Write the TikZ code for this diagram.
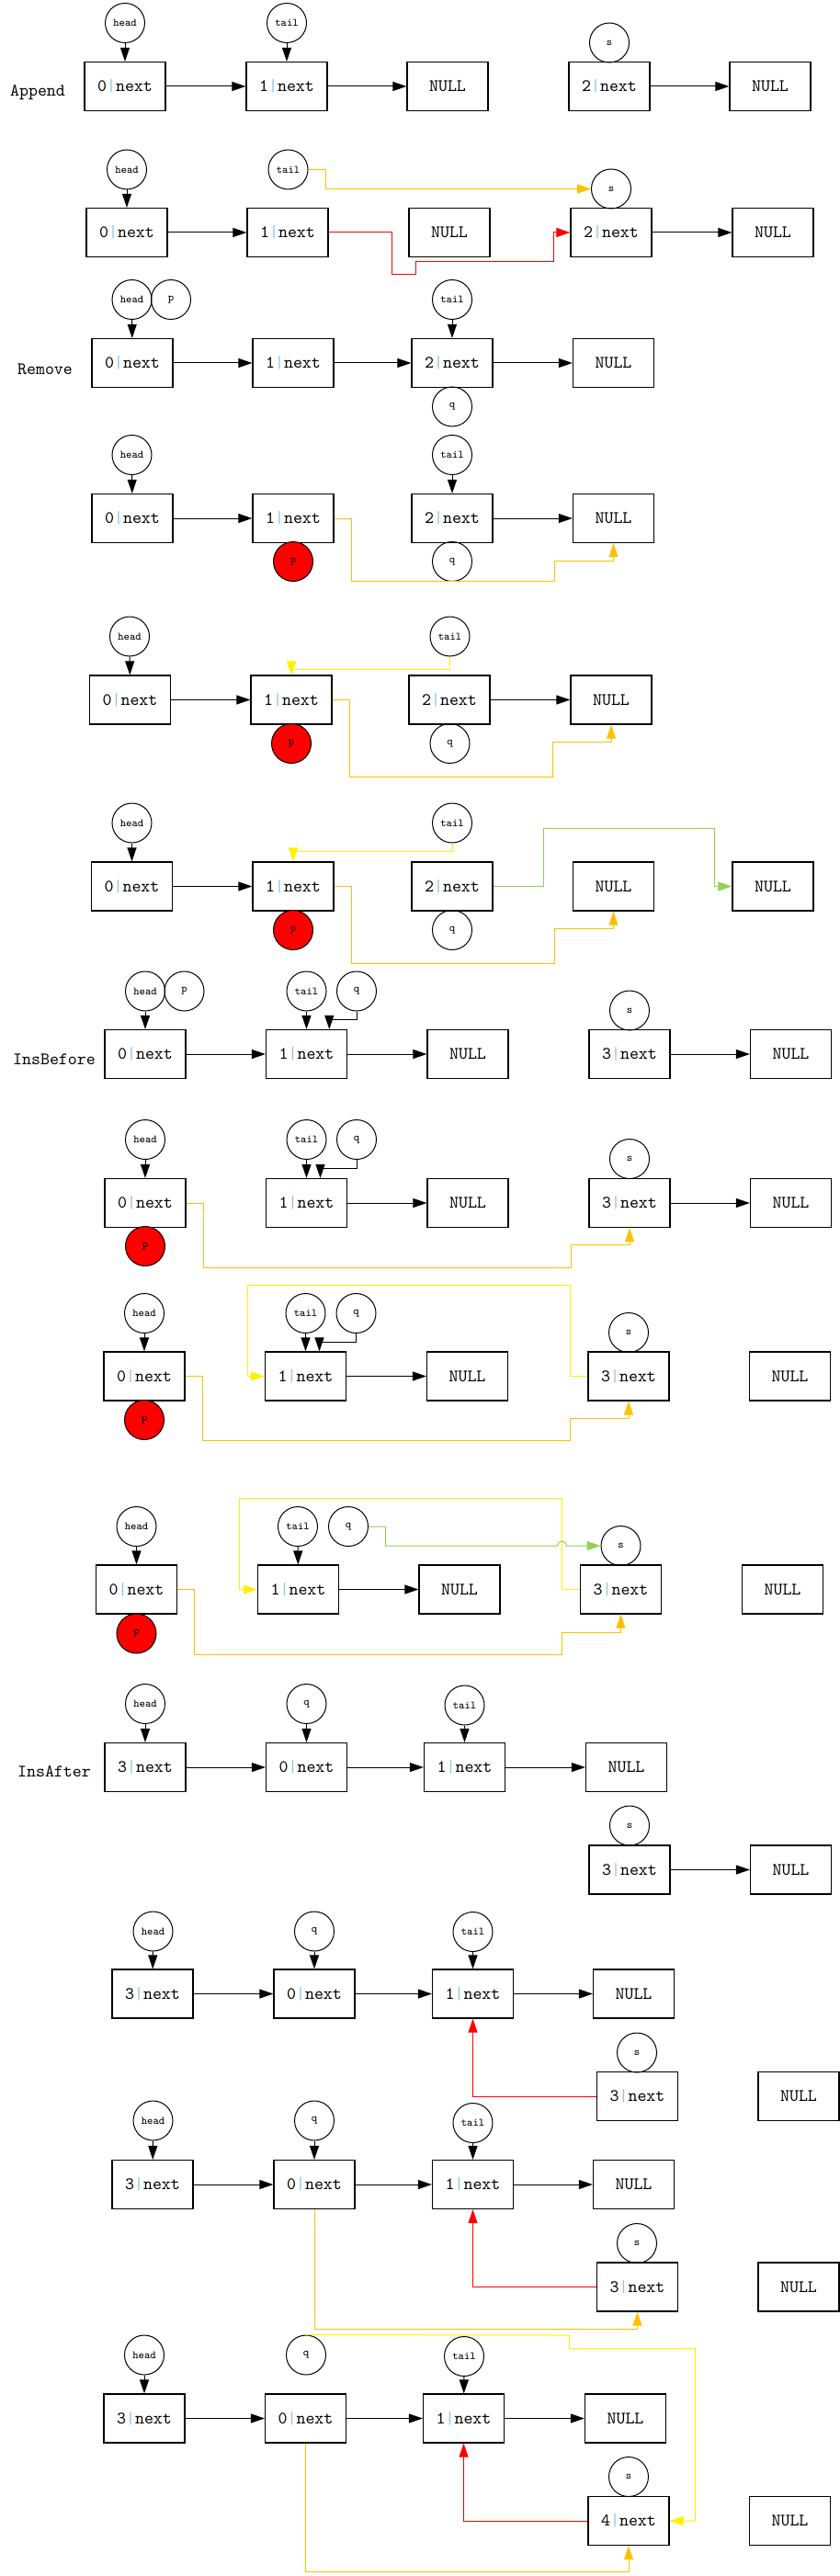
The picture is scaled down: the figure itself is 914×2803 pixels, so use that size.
\documentclass[tikz,border=0pt]{standalone}
\usepackage{tikz}
\usepackage{xcolor}
\definecolor{amber}{HTML}{FFC000}
\definecolor{lemon}{HTML}{FFF000}
\definecolor{leaf}{HTML}{92D050}
\definecolor{barblue}{HTML}{8EC3EA}
\usetikzlibrary{arrows.meta}
\tikzset{>={Triangle[length=7.5pt,width=5pt]}}
\tikzset{
  cell/.style={draw, line width=0.6pt, minimum width=44pt, minimum height=26.5pt, inner sep=0pt, font=\fontsize{9.5}{11}\ttfamily},
  ptr/.style={draw, circle, line width=0.5pt, minimum size=21.5pt, inner sep=0pt, font=\fontsize{6}{7}\ttfamily},
  cur/.style={ptr, fill=red},
  stage/.style={font=\fontsize{9.5}{11}\ttfamily}
}
\newcommand{\cellnext}[1]{#1\textcolor{barblue}{\textbar}next}

\begin{document}
\begin{tikzpicture}[x=0.5pt,y=-0.5pt,line width=0.5pt]
\useasboundingbox (0,0) rectangle (914,2803);

% ---------- Append ----------
\node[stage] (append) at (41,101) {Append};

% before
\node[cell] (a1n0) at (136,94) {\cellnext{0}};
\node[cell] (a1n1) at (312,94) {\cellnext{1}};
\node[cell] (a1nul) at (487,94) {NULL};
\node[cell] (a1n2) at (663,94) {\cellnext{2}};
\node[cell] (a1nulb) at (838,94) {NULL};
\node[ptr] (a1head) at (136,25) {head};
\node[ptr] (a1tail) at (312,25) {tail};
\node[ptr] (a1s) at (663,46.5) {s};
\draw[->] (a1head) -- (a1n0);
\draw[->] (a1tail) -- (a1n1);
\draw[->] (a1n0) -- (a1n1);
\draw[->] (a1n1) -- (a1nul);
\draw[->] (a1n2) -- (a1nulb);

% after
\node[cell] (a2n0) at (138,253) {\cellnext{0}};
\node[cell] (a2n1) at (313,253) {\cellnext{1}};
\node[cell] (a2nul) at (489,253) {NULL};
\node[cell] (a2n2) at (665,253) {\cellnext{2}};
\node[cell] (a2nulb) at (841,253) {NULL};
\node[ptr] (a2head) at (138,184.5) {head};
\node[ptr] (a2tail) at (313.5,184.5) {tail};
\node[ptr] (a2s) at (665,205.5) {s};
\draw[->] (a2head) -- (a2n0);
\draw[->] (a2n0) -- (a2n1);
\draw[->] (a2n2) -- (a2nulb);
\draw[->, amber] (a2tail.east) -- (354,184.5) |- (a2s.west);          % tail = s
\draw[->, red] (a2n1.east) -- (426,253) |- (452,299) |- (602,285) |- (a2n2.west); % tail->next = s

% ---------- Remove ----------
\node[stage] (remove) at (49,401.5) {Remove};

% step 1
\node[cell] (r1n0) at (144,395) {\cellnext{0}};
\node[cell] (r1n1) at (319,395) {\cellnext{1}};
\node[cell] (r1n2) at (492,395) {\cellnext{2}};
\node[cell] (r1nul) at (667.5,395) {NULL};
\node[ptr] (r1head) at (143.5,326) {head};
\node[ptr] (r1p) at (186,326) {p};
\node[ptr] (r1tail) at (492,326) {tail};
\node[ptr] (r1q) at (492,442.5) {q};
\draw[->] (r1head) -- (r1n0);
\draw[->] (r1tail) -- (r1n2);
\draw[->] (r1n0) -- (r1n1);
\draw[->] (r1n1) -- (r1n2);
\draw[->] (r1n2) -- (r1nul);

% step 2
\node[cell] (r2n0) at (144,564) {\cellnext{0}};
\node[cell] (r2n1) at (319,564) {\cellnext{1}};
\node[cell] (r2n2) at (492,564) {\cellnext{2}};
\node[cell] (r2nul) at (667.5,564) {NULL};
\node[ptr] (r2head) at (143.5,495) {head};
\node[ptr] (r2tail) at (492,495) {tail};
\node[cur] (r2p) at (319,611) {p};
\node[ptr] (r2q) at (492,611) {q};
\draw[->] (r2head) -- (r2n0);
\draw[->] (r2tail) -- (r2n2);
\draw[->] (r2n0) -- (r2n1);
\draw[->] (r2n2) -- (r2nul);
\draw[->, amber] (r2n1.east) -- (382,564) |- (603,632) |- (667.5,610) -- (r2nul.south);

% step 3
\node[cell] (r3n0) at (141.5,761.5) {\cellnext{0}};
\node[cell] (r3n1) at (317,761.5) {\cellnext{1}};
\node[cell] (r3n2) at (489,761.5) {\cellnext{2}};
\node[cell] (r3nul) at (665,761.5) {NULL};
\node[ptr] (r3head) at (141,692.5) {head};
\node[ptr] (r3tail) at (489.5,692.5) {tail};
\node[cur] (r3p) at (317,809) {p};
\node[ptr] (r3q) at (489.5,809) {q};
\draw[->] (r3head) -- (r3n0);
\draw[->] (r3n0) -- (r3n1);
\draw[->] (r3n2) -- (r3nul);
\draw[->, lemon] (r3tail.south) -- ++(0,13.5) -| (r3n1.north);
\draw[->, amber] (r3n1.east) -- (380,761.5) |- (601.5,845) |- (665,807.5) -- (r3nul.south);

% step 4
\node[cell] (r4n0) at (143.5,964.5) {\cellnext{0}};
\node[cell] (r4n1) at (319,964.5) {\cellnext{1}};
\node[cell] (r4n2) at (492,964.5) {\cellnext{2}};
\node[cell] (r4nul) at (667.5,964.5) {NULL};
\node[cell] (r4nulb) at (841,964.5) {NULL};
\node[ptr] (r4head) at (143.5,895.5) {head};
\node[ptr] (r4tail) at (492,895.5) {tail};
\node[cur] (r4p) at (319,1012) {p};
\node[ptr] (r4q) at (492,1012) {q};
\draw[->] (r4head) -- (r4n0);
\draw[->] (r4n0) -- (r4n1);
\draw[->, lemon] (r4tail.south) -- ++(0,9) -| (r4n1.north);
\draw[->, amber] (r4n1.east) -- (382,964.5) |- (603,1048) |- (667.5,1010) -- (r4nul.south);
\draw[->, leaf] (r4n2.east) -- (591.5,964.5) |- (777.5,901) |- (r4nulb.west);

% ---------- InsBefore ----------
\node[stage] (insbefore) at (59,1152.5) {InsBefore};

% step 1
\node[cell] (b1n0) at (158,1147) {\cellnext{0}};
\node[cell] (b1n1) at (333.5,1147) {\cellnext{1}};
\node[cell] (b1nul) at (509,1147) {NULL};
\node[cell] (b1n3) at (685,1147) {\cellnext{3}};
\node[cell] (b1nulb) at (860.5,1147) {NULL};
\node[ptr] (b1head) at (158,1078.5) {head};
\node[ptr] (b1p) at (200.5,1078.5) {p};
\node[ptr] (b1tail) at (333.5,1078.5) {tail};
\node[ptr] (b1q) at (388,1078.5) {q};
\node[ptr] (b1s) at (685,1099.5) {s};
\draw[->] (b1head) -- (b1n0);
\draw[->] (b1tail) -- (b1n1);
\draw[->] (b1q.south) -- ++(0,9) -| ([xshift=12.4pt]b1n1.north);
\draw[->] (b1n0) -- (b1n1);
\draw[->] (b1n1) -- (b1nul);
\draw[->] (b1n3) -- (b1nulb);

% step 2
\node[cell] (b2n0) at (158,1309) {\cellnext{0}};
\node[cell] (b2n1) at (333.5,1309) {\cellnext{1}};
\node[cell] (b2nul) at (509,1309) {NULL};
\node[cell] (b2n3) at (685,1309) {\cellnext{3}};
\node[cell] (b2nulb) at (860.5,1309) {NULL};
\node[ptr] (b2head) at (158,1240) {head};
\node[ptr] (b2tail) at (333.5,1240) {tail};
\node[ptr] (b2q) at (388,1240) {q};
\node[ptr] (b2s) at (685,1261) {s};
\node[cur] (b2p) at (158,1356) {p};
\draw[->] (b2head) -- (b2n0);
\draw[->] (b2tail) -- (b2n1);
\draw[->] (b2q.south) -- ++(0,9) -| ([xshift=7.5pt]b2n1.north);
\draw[->] (b2n1) -- (b2nul);
\draw[->] (b2n3) -- (b2nulb);
\draw[->, amber] (b2n0.east) -- (221.5,1309) |- (621.5,1379) |- (685,1354.5) -- (b2n3.south);

% step 3
\node[cell] (b3n0) at (157,1497.5) {\cellnext{0}};
\node[cell] (b3n1) at (332.5,1497.5) {\cellnext{1}};
\node[cell] (b3nul) at (508.5,1497.5) {NULL};
\node[cell] (b3n3) at (684,1497.5) {\cellnext{3}};
\node[cell] (b3nulb) at (859.5,1497.5) {NULL};
\node[ptr] (b3head) at (157,1429) {head};
\node[ptr] (b3tail) at (332.5,1429) {tail};
\node[ptr] (b3q) at (387.5,1429) {q};
\node[ptr] (b3s) at (684,1450) {s};
\node[cur] (b3p) at (157,1545) {p};
\draw[->] (b3head) -- (b3n0);
\draw[->] (b3tail) -- (b3n1);
\draw[->] (b3q.south) -- ++(0,9.5) -| ([xshift=7.5pt]b3n1.north);
\draw[->] (b3n1) -- (b3nul);
\draw[->, lemon] (b3n3.west) -- (620,1497.5) |- (269.5,1398.5) |- (b3n1.west);
\draw[->, amber] (b3n0.east) -- (220.5,1497.5) |- (620,1567.5) |- (684,1543.5) -- (b3n3.south);

% step 4
\node[cell] (b4n0) at (148.5,1729.5) {\cellnext{0}};
\node[cell] (b4n1) at (324.5,1729.5) {\cellnext{1}};
\node[cell] (b4nul) at (500,1729.5) {NULL};
\node[cell] (b4n3) at (675.5,1729.5) {\cellnext{3}};
\node[cell] (b4nulb) at (851.5,1729.5) {NULL};
\node[ptr] (b4head) at (148.5,1661) {head};
\node[ptr] (b4tail) at (324,1661) {tail};
\node[ptr] (b4q) at (379,1661) {q};
\node[ptr] (b4s) at (675.5,1682) {s};
\node[cur] (b4p) at (148.5,1777.5) {p};
\draw[->] (b4head) -- (b4n0);
\draw[->] (b4tail) -- (b4n1);
\draw[->] (b4n1) -- (b4nul);
\draw[->, lemon] (b4n3.west) -- (611.5,1729.5) |- (260.5,1630.5) |- (b4n1.west);
\draw[->, amber] (b4n0.east) -- (211.5,1729.5) |- (611.5,1800) |- (675.5,1776) -- (b4n3.south);
\draw[->, leaf] (b4q.east) -- (419.5,1661) |- (606.5,1682) arc[start angle=180,end angle=0,radius=2.5pt] -- (b4s.west); % hop over yellow

% ---------- InsAfter ----------
\node[stage] (insafter) at (59,1928) {InsAfter};

% step 1
\node[cell] (c1n3) at (158,1923) {\cellnext{3}};
\node[cell] (c1n0) at (333.5,1923) {\cellnext{0}};
\node[cell] (c1n1) at (505.5,1923) {\cellnext{1}};
\node[cell] (c1nul) at (681.5,1923) {NULL};
\node[ptr] (c1head) at (158,1854) {head};
\node[ptr] (c1q) at (333.5,1854) {q};
\node[ptr] (c1tail) at (505.5,1855.5) {tail};
\node[ptr] (c1s) at (685,1986.5) {s};
\node[cell] (c1sn) at (685,2034.5) {\cellnext{3}};
\node[cell] (c1nulb) at (860.5,2034.5) {NULL};
\draw[->] (c1head) -- (c1n3);
\draw[->] (c1q) -- (c1n0);
\draw[->] (c1tail) -- (c1n1);
\draw[->] (c1n3) -- (c1n0);
\draw[->] (c1n0) -- (c1n1);
\draw[->] (c1n1) -- (c1nul);
\draw[->] (c1sn) -- (c1nulb);

% step 2
\node[cell] (c2n3) at (166,2169.5) {\cellnext{3}};
\node[cell] (c2n0) at (342,2169.5) {\cellnext{0}};
\node[cell] (c2n1) at (514.5,2169.5) {\cellnext{1}};
\node[cell] (c2nul) at (689.5,2169.5) {NULL};
\node[ptr] (c2head) at (166.5,2101.5) {head};
\node[ptr] (c2q) at (342,2101.5) {q};
\node[ptr] (c2tail) at (514.5,2102) {tail};
\node[ptr] (c2s) at (693,2233.5) {s};
\node[cell] (c2sn) at (693.5,2281) {\cellnext{3}};
\node[cell] (c2nulb) at (869,2281) {NULL};
\draw[->] (c2head) -- (c2n3);
\draw[->] (c2q) -- (c2n0);
\draw[->] (c2tail) -- (c2n1);
\draw[->] (c2n3) -- (c2n0);
\draw[->] (c2n0) -- (c2n1);
\draw[->] (c2n1) -- (c2nul);
\draw[->, red] (c2sn.west) -| (c2n1.south);

% step 3
\node[cell] (c3n3) at (166,2377) {\cellnext{3}};
\node[cell] (c3n0) at (342,2377) {\cellnext{0}};
\node[cell] (c3n1) at (514.5,2377) {\cellnext{1}};
\node[cell] (c3nul) at (689.5,2377) {NULL};
\node[ptr] (c3head) at (166.5,2307.5) {head};
\node[ptr] (c3q) at (342,2307.5) {q};
\node[ptr] (c3tail) at (514.5,2310) {tail};
\node[ptr] (c3s) at (693,2441) {s};
\node[cell] (c3sn) at (693.5,2488.5) {\cellnext{3}};
\node[cell] (c3nulb) at (869,2488.5) {NULL};
\draw[->] (c3head) -- (c3n3);
\draw[->] (c3q) -- (c3n0);
\draw[->] (c3tail) -- (c3n1);
\draw[->] (c3n3) -- (c3n0);
\draw[->] (c3n0) -- (c3n1);
\draw[->] (c3n1) -- (c3nul);
\draw[->, red] (c3sn.west) -| (c3n1.south);
\draw[->, amber] (c3n0.south) -- (342,2534.5) -| (c3sn.south);

% step 4
\node[cell] (c4n3) at (157,2631.5) {\cellnext{3}};
\node[cell] (c4n0) at (332.5,2631.5) {\cellnext{0}};
\node[cell] (c4n1) at (504.5,2631.5) {\cellnext{1}};
\node[cell] (c4nul) at (680.5,2631.5) {NULL};
\node[ptr] (c4head) at (157,2562.5) {head};
\node[ptr] (c4q) at (333,2562.5) {q};
\node[ptr] (c4tail) at (505,2564) {tail};
\node[ptr] (c4s) at (684,2695) {s};
\node[cell] (c4sn) at (684,2743) {\cellnext{4}};
\node[cell] (c4nulb) at (859.5,2743) {NULL};
\draw[->] (c4head) -- (c4n3);
\draw[->] (c4tail) -- (c4n1);
\draw[->] (c4n3) -- (c4n0);
\draw[->] (c4n0) -- (c4n1);
\draw[->] (c4n1) -- (c4nul);
\draw[->, red] (c4sn.west) -| (c4n1.south);
\draw[->, amber] (c4n0.south) -- (332.5,2798.5) -| (c4sn.south);
\draw[->, lemon] (c4q.north) -- (619.5,2541) |- (756.5,2555.5) |- (c4sn.east);

\end{tikzpicture}
\end{document}
